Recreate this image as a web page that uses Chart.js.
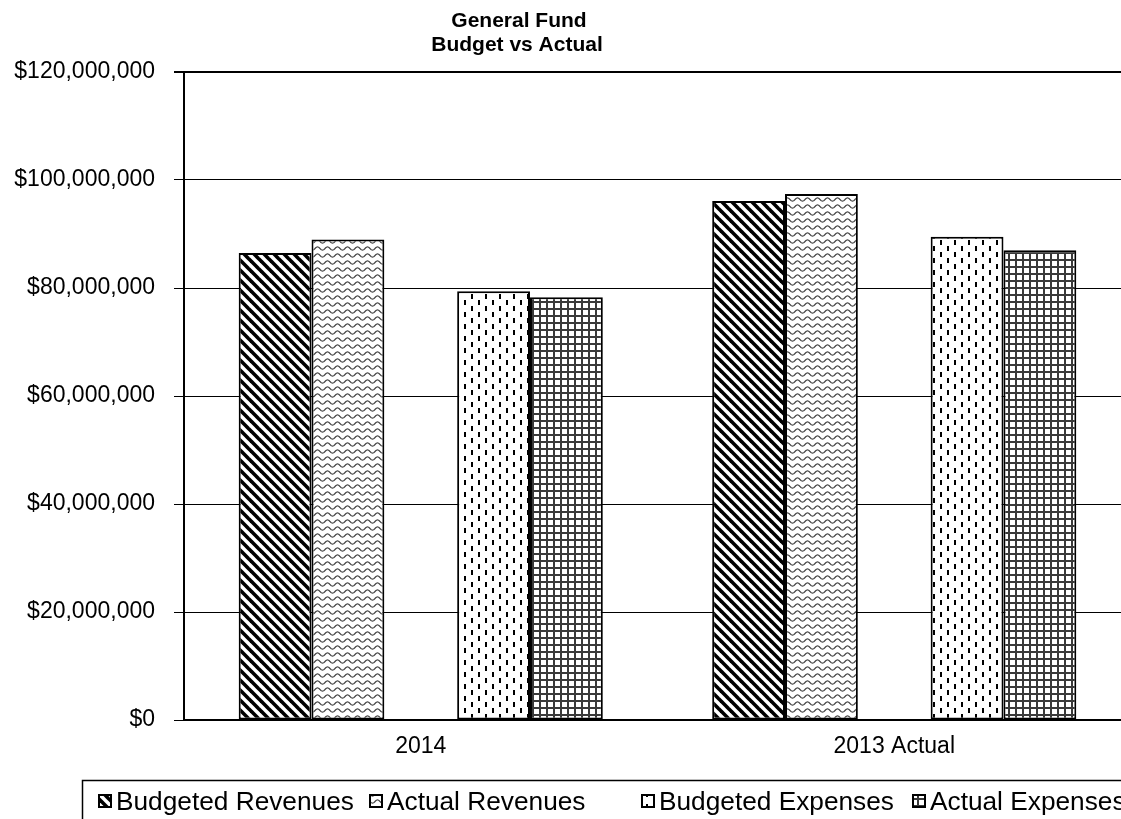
<!DOCTYPE html>
<html>
<head>
<meta charset="utf-8">
<title>General Fund Budget vs Actual</title>
<script src="https://cdn.jsdelivr.net/npm/chart.js@4.4.1/dist/chart.umd.min.js"></script>
<style>
  html, body { margin: 0; padding: 0; background: #fff; overflow: hidden; }
  #wrap { width: 1121px; height: 819px; overflow: hidden; }
  canvas { display: block; }
</style>
</head>
<body>
<div id="wrap"><canvas id="fundChart" width="1141" height="819"></canvas></div>
<script>
// chart data
const categories = ["2014", "2013 Actual"];
const seriesNames = ["Budgeted Revenues", "Actual Revenues", "", "Budgeted Expenses", "Actual Expenses"];
const budgetedRevenues = [86500000, 96100000];
const actualRevenues = [89000000, 97400000];
const spacerSeries = [null, null];
const budgetedExpenses = [79400000, 89500000];
const actualExpenses = [78300000, 87000000];
const yTickValues = [0, 20000000, 40000000, 60000000, 80000000, 100000000, 120000000];
const titleLines = ["General Fund", "Budget vs Actual"];

const canvas = document.getElementById("fundChart");
const mainCtx = canvas.getContext("2d");

function makePattern(w, h, draw) {
	const tile = document.createElement("canvas");
	tile.width = w;
	tile.height = h;
	const g = tile.getContext("2d");
	g.fillStyle = "#fff";
	g.fillRect(0, 0, w, h);
	draw(g, w, h);
	return mainCtx.createPattern(tile, "repeat");
}

// black "\" stripes
const stripePattern = makePattern(10, 10, function (g, w, h) {
	g.strokeStyle = "#000";
	g.lineWidth = 3.6;
	[-10, 0, 10].forEach(function (k) {
		g.beginPath();
		g.moveTo(k - 2, -2);
		g.lineTo(k + w + 2, h + 2);
		g.stroke();
	});
});

// horizontal waves
const wavePattern = makePattern(10, 7, function (g, w, h) {
	g.strokeStyle = "#444";
	g.lineWidth = 1.2;
	g.beginPath();
	for (let x = -1; x <= w + 1; x += 0.5) {
		const y = 3.5 + 1.6 * Math.sin((2 * Math.PI * x) / w);
		if (x === -1) g.moveTo(x, y);
		else g.lineTo(x, y);
	}
	g.stroke();
});

// staggered vertical dashes
const dashPattern = makePattern(14, 12, function (g) {
	g.fillStyle = "#000";
	g.fillRect(2, 0, 2, 5);
	g.fillRect(9, 6, 2, 5);
});

// small square grid
const gridPattern = makePattern(7, 7, function (g) {
	g.fillStyle = "#3a3a3a";
	g.fillRect(0, 0, 7, 2);
	g.fillRect(0, 0, 2, 7);
});

const fills = [stripePattern, wavePattern, "#fff", dashPattern, gridPattern];
const seriesData = [budgetedRevenues, actualRevenues, spacerSeries, budgetedExpenses, actualExpenses];

const titlePlugin = {
	id: "fundTitle",
	afterDraw(chart) {
		const ctx = chart.ctx;
		ctx.save();
		ctx.fillStyle = "#000";
		ctx.font = "bold 21px 'Liberation Sans', Arial, sans-serif";
		ctx.textAlign = "center";
		ctx.textBaseline = "alphabetic";
		ctx.fillText(titleLines[0], 519, 27);
		ctx.fillText(titleLines[1], 517, 51);
		ctx.restore();
	},
};

const legendPlugin = {
	id: "boxLegend",
	afterDraw(chart) {
		const ctx = chart.ctx;
		const markerX = [98, 369, 641, 912];
		ctx.save();
		ctx.strokeStyle = "#000";
		ctx.lineWidth = 1.5;
		ctx.beginPath();
		ctx.moveTo(82.5, chart.height);
		ctx.lineTo(82.5, 780.5);
		ctx.lineTo(chart.width, 780.5);
		ctx.stroke();

		ctx.font = "25px 'Liberation Sans', Arial, sans-serif";
		ctx.textBaseline = "alphabetic";
		ctx.textAlign = "left";
		let n = 0;
		chart.data.datasets.forEach(function (ds) {
			if (!ds.label) return;
			const x = markerX[n++];
			ctx.fillStyle = ds.backgroundColor;
			ctx.fillRect(x, 794, 14, 14);
			ctx.lineWidth = 2;
			ctx.strokeStyle = "#000";
			ctx.strokeRect(x + 1, 795, 12, 12);
			ctx.fillStyle = "#000";
			ctx.save();
			ctx.translate(x + 18, 810);
			ctx.scale(1.05, 1);
			ctx.fillText(ds.label, 0, 0);
			ctx.restore();
		});
		ctx.restore();
	},
};

new Chart(mainCtx, {
	type: "bar",
	data: {
		labels: categories,
		datasets: seriesData.map(function (values, i) {
			return {
				label: seriesNames[i],
				data: values,
				backgroundColor: fills[i],
				borderColor: "#000",
				borderWidth: 2,
				borderSkipped: false,
			};
		}),
	},
	options: {
		responsive: false,
		animation: false,
		layout: {
			padding: { top: 72, right: 10, left: 0, bottom: 0 },
		},
		datasets: {
			bar: {
				categoryPercentage: 0.769,
				barPercentage: 1.0,
			},
		},
		plugins: {
			legend: { display: false },
			title: { display: false },
			tooltip: { enabled: false },
		},
		scales: {
			x: {
				grid: { display: false, drawTicks: false },
				border: { display: true, color: "#000", width: 2 },
				ticks: {
					color: "#000",
					padding: 13,
					font: { family: "'Liberation Sans', Arial, sans-serif", size: 23 },
				},
				afterFit: function (scale) {
					scale.height = 99;
				},
			},
			y: {
				min: 0,
				max: 120000000,
				afterBuildTicks: function (scale) {
					scale.ticks = yTickValues.map(function (v) {
						return { value: v };
					});
				},
				grid: {
					color: "#000",
					lineWidth: function (context) {
						return context.tick && context.tick.value === 120000000 ? 2 : 1;
					},
					tickLength: 10,
				},
				border: { display: true, color: "#000", width: 2 },
				ticks: {
					color: "#000",
					padding: 19,
					font: { family: "'Liberation Sans', Arial, sans-serif", size: 23 },
					callback: function (value) {
						return "$" + Number(value).toLocaleString("en-US");
					},
				},
				afterFit: function (scale) {
					scale.width = 184;
				},
			},
		},
	},
	plugins: [titlePlugin, legendPlugin],
});
</script>
</body>
</html>
